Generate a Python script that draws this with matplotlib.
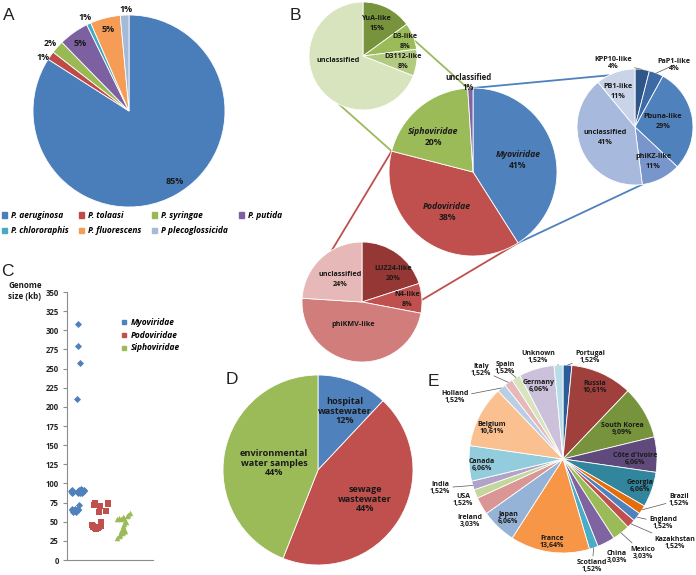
import numpy as np
import matplotlib
matplotlib.use("Agg")
import matplotlib.pyplot as plt
from matplotlib.patches import Patch
from matplotlib.lines import Line2D

plt.rcParams['font.family'] = ['Open Sans', 'DejaVu Sans']

W, H = 696, 575

# ---------------- data ----------------
# A: host species of the phages
a_species = ["P. aeruginosa", "P. tolaasi", "P. syringae", "P. putida",
             "P. chlororaphis", "P. fluorescens", "P plecoglossicida"]
a_counts = [116, 2, 3, 7, 1, 7, 2]
a_labels = ["85%", "1%", "2%", "5%", "1%", "5%", "1%"]

# B: families and sub-groups
b_families = ["Myoviridae", "Podoviridae", "Siphoviridae", "unclassified"]
b_pct = [41, 38, 20, 1]
sipho_groups = ["YuA-like", "D3-like", "D3112-like", "unclassified"]
sipho_pct = [15, 8, 8, 69]
myo_groups = ["KPP10-like", "PaP1-like", "Pbuna-like", "phiKZ-like", "unclassified", "PB1-like"]
myo_pct = [4, 4, 29, 11, 41, 11]
podo_groups = ["LUZ24-like", "N4-like", "phiKMV-like", "unclassified"]
podo_pct = [20, 8, 48, 24]

# C: genome sizes (kb)
myo_x = [0.53, 0.50, 0.60, 0.48, 0.19, 0.23, 0.21, 0.26, 0.49, 0.56, 0.63, 0.70, 0.77,
         0.51, 0.60, 0.70, 0.79, 0.58, 0.65, 0.57, 0.21, 0.28, 0.35, 0.42, 0.49, 0.23, 0.37, 0.51]
myo_kb = [308, 279, 257, 210, 90, 88, 91, 89, 90, 92, 93, 92, 90,
          88, 87, 88, 91, 90, 89.5, 72, 65, 63, 64, 63, 65, 66, 66.5, 66]
podo_x = [1.30, 1.27, 1.53, 1.92, 1.89, 1.81, 1.50, 1.16, 1.19, 1.23, 1.30, 1.37, 1.44,
          1.51, 1.56, 1.58, 1.60, 1.26, 1.40]
podo_kb = [74, 72, 71, 75, 73.5, 64, 63, 46, 44, 42.5, 41.5, 41, 41.5,
           42.5, 44.5, 47, 49.5, 43, 43]
sipho_x = [2.34, 2.42, 2.50, 2.59, 2.65, 2.85, 2.92, 2.78, 2.70, 2.74, 2.65, 2.62, 2.59,
           2.67, 2.50, 2.62, 2.71, 2.54, 2.42, 2.34, 2.47]
sipho_kb = [53, 55, 54, 56, 55, 59, 62, 57, 51, 50, 47, 44, 41,
            40, 38, 37, 38, 35, 31, 29, 32]

# D: isolation source
d_sources = ["hospital\nwastewater", "sewage\nwastewater", "environmental\nwater samples"]
d_pct = [12, 44, 44]

# E: country of isolation
e_countries = ["Portugal", "Russia", "South Korea", "Côte d'Ivoire", "Georgia", "Brazil",
               "England", "Kazakhstan", "Mexico", "China", "Scotland", "France", "Japan",
               "Ireland", "USA", "India", "Canada", "Belgium", "Holland", "Italy", "Spain",
               "Germany", "Unknown"]
e_counts = [1, 7, 6, 4, 4, 1, 1, 1, 2, 2, 1, 9, 4, 2, 1, 1, 4, 7, 1, 1, 1, 4, 1]

# ---------------- styles ----------------
a_colors = ['#4A7EBB', '#BE4B48', '#98B954', '#7D60A0', '#46AAC5', '#F59D56', '#A5B9D9']
b_colors = ['#4F81BD', '#C0504D', '#9BBB59', '#8064A2']
sipho_colors = ['#77933C', '#9BBB59', '#B3CB80', '#D7E4BD']
myo_colors = ['#2F5687', '#3D6AA4', '#4F81BD', '#7896CB', '#A7B9DC', '#C9D4E9']
podo_colors = ['#953735', '#C0504D', '#D07D7B', '#E6B9B8']
d_colors = ['#4F81BD', '#C0504D', '#9BBB59']
e_colors = ['#2C5D9A', '#A0403D', '#77933C', '#5F4A7B', '#31859C', '#E46C0A',
            '#4F81BD', '#C0504D', '#9BBB59', '#8064A2', '#4BACC6', '#F79646',
            '#95B3D7', '#D99694', '#C3D69B', '#B3A2C7', '#93CDDD', '#FAC090',
            '#B9CDE5', '#E6B9B8', '#D7E4BD', '#CCC1DA', '#B7DEE8']

fig = plt.figure(figsize=(W / 100, H / 100), dpi=100)
ax = fig.add_axes([0, 0, 1, 1])


def pie(values, colors, cx, cy, r):
    ax.pie(values, colors=colors, startangle=90, counterclock=False,
           center=(cx, H - cy), radius=r, frame=True,
           wedgeprops=dict(edgecolor='white', linewidth=0.6))
    frac = np.cumsum([0] + list(values)) / np.sum(values)
    return 90 - 360 * frac


def on_circle(cx, cy, r, ang):
    return (cx + r * np.cos(np.radians(ang)), H - cy + r * np.sin(np.radians(ang)))


def lab(x, y, s, size, style='normal', **kw):
    ax.text(x, H - y, s, fontsize=size, fontstyle=style, fontweight='bold',
            ha='center', va='center', linespacing=1.1, color='#1a1a1a', **kw)


def lab2(x, y, name, pct, size, gap, style='normal'):
    lab(x, y - gap / 2, name, size, style)
    lab(x, y + gap / 2, pct, size)


def letter(x, y, s):
    ax.text(x, H - y, s, fontsize=12.5, ha='left', va='center', color='#222222',
            family='Liberation Sans')


# ---------------- A ----------------
pie(a_counts, a_colors, 129, 111, 96)
a_pos = [(175, 182), (43, 57), (50, 43), (80, 43), (85, 17), (108, 29), (126, 9)]
for (x, y), s in zip(a_pos, a_labels):
    lab(x, y, s, 6.5)
order = [0, 4, 1, 5, 2, 6, 3]
handles = [Patch(color=a_colors[i]) for i in order]
fig.legend(handles, [a_species[i] for i in order], ncol=4, loc='upper left',
           bbox_to_anchor=(2 / W, 1 - 211 / H), frameon=False,
           prop=dict(size=6, weight='bold', style='italic'),
           handlelength=0.6, handleheight=0.6, handletextpad=0.5,
           columnspacing=1.25, labelspacing=0.75, borderaxespad=0, borderpad=0)
letter(3, 15, "A")

# ---------------- B ----------------
bc = (473, 172, 84)
b_ang = pie(b_pct, b_colors, *bc)
sc = (363, 56, 54)
pie(sipho_pct, sipho_colors, *sc)
mc = (635, 127, 58)
m_ang = pie(myo_pct, myo_colors, *mc)
pc = (362, 302, 60)
pie(podo_pct, podo_colors, *pc)

# connectors between the family wedges and the zoomed pies
conn = [(sc, 16.5, b_ang[3], '#9BBB59'), (sc, 244, b_ang[2], '#9BBB59'),
        (mc, 117, b_ang[0], '#4F81BD'), (mc, -83, b_ang[1], '#4F81BD'),
        (pc, 120, b_ang[2], '#C0504D'), (pc, 2, b_ang[1], '#C0504D')]
for c, a_sub, a_main, col in conn:
    p1 = on_circle(*c, a_sub)
    p2 = on_circle(*bc, a_main)
    ax.plot([p1[0], p2[0]], [p1[1], p2[1]], color=col, lw=1.3, zorder=0.5)

lab2(518, 160, "Myoviridae", "41%", 6.2, 11, 'italic')
lab2(447, 212, "Podoviridae", "38%", 6.2, 11, 'italic')
lab2(433, 137, "Siphoviridae", "20%", 6.2, 11, 'italic')
lab2(468, 82, "unclassified", "1%", 5.6, 10)

SUB = 5.2
for (x, y), g, p in zip([(377, 24), (405, 42), (403, 62)], sipho_groups, sipho_pct):
    lab2(x, y, g, f"{p}%", SUB, 10)
lab(338, 61, "unclassified", SUB)

for (x, y), g, p in zip([(663, 122), (653, 162), (605, 138), (618, 92)], myo_groups[2:], myo_pct[2:]):
    lab2(x, y, g, f"{p}%", SUB, 10)
for (x, y), g, p, i in zip([(613, 63), (674, 65)], myo_groups[:2], myo_pct[:2], [0, 1]):
    mid = (m_ang[i] + m_ang[i + 1]) / 2
    ax.annotate(f"{g}\n{p}%", xy=on_circle(*mc, mid), xytext=(x, H - y),
                fontsize=SUB, fontweight='bold', ha='center', va='center', linespacing=1.1,
                color='#1a1a1a',
                arrowprops=dict(arrowstyle='-', lw=0.5, color='#555555', shrinkA=0, shrinkB=0))

for (x, y), g, p in zip([(393, 273), (407, 300), (340, 279)],
                        [podo_groups[0], podo_groups[1], podo_groups[3]],
                        [podo_pct[0], podo_pct[1], podo_pct[3]]):
    lab2(x, y, g, f"{p}%", SUB, 10)
lab(353, 325, podo_groups[2], SUB)
letter(290, 15, "B")

# ---------------- D ----------------
pie(d_pct, d_colors, 318, 470, 95)
for (x, y), s, p in zip([(345, 411), (365, 499), (274, 463)], d_sources, d_pct):
    lab(x, y, f"{s}\n{p}%", 6.6)
letter(226, 379, "D")

# ---------------- E ----------------
ec = (563, 459, 94)
e_ang = pie(e_counts, e_colors, *ec)
e_total = sum(e_counts)
e_pos = {"Portugal": (590, 357), "Russia": (595, 387), "South Korea": (622, 429),
         "Côte d'Ivoire": (635, 459), "Georgia": (640, 486), "Brazil": (679, 500),
         "England": (663, 523), "Kazakhstan": (675, 543), "Mexico": (643, 553),
         "China": (617, 557), "Scotland": (592, 566), "France": (552, 542),
         "Japan": (508, 518), "Ireland": (470, 521), "USA": (463, 500),
         "India": (440, 488), "Canada": (482, 465), "Belgium": (492, 428),
         "Holland": (455, 397), "Italy": (481, 370), "Spain": (505, 368),
         "Germany": (539, 386), "Unknown": (538, 357)}
e_leaders = {"Portugal", "Unknown", "Italy", "Spain", "Holland", "India",
             "Brazil", "England", "Kazakhstan", "Mexico", "Scotland"}
ES = 5.0
for i, (c, n) in enumerate(zip(e_countries, e_counts)):
    s = f"{c}\n{100 * n / e_total:.2f}%".replace('.', ',')
    x, y = e_pos[c]
    if c in e_leaders:
        mid = (e_ang[i] + e_ang[i + 1]) / 2
        ax.annotate(s, xy=on_circle(*ec, mid), xytext=(x, H - y),
                    fontsize=ES, fontweight='bold', ha='center', va='center',
                    linespacing=1.1, color='#1a1a1a',
                    arrowprops=dict(arrowstyle='-', lw=0.5, color='#555555',
                                    shrinkA=0, shrinkB=0))
    else:
        lab(x, y, s, ES)
letter(428, 381, "E")

ax.set_xlim(0, W)
ax.set_ylim(0, H)
ax.set_aspect('equal')
ax.axis('off')

# ---------------- C ----------------
axc = fig.add_axes([67 / W, (H - 560) / H, (153 - 67) / W, (560 - 292) / H])
axc.patch.set_alpha(0)
axc.scatter(myo_x, myo_kb, marker='D', s=13, color='#4F81BD', linewidths=0)
axc.scatter(podo_x, podo_kb, marker='s', s=13, color='#C0504D', linewidths=0)
axc.scatter(sipho_x, sipho_kb, marker='^', s=16, color='#9BBB59', linewidths=0)
axc.set_xlim(0, 4)
axc.set_ylim(0, 350)
axc.set_yticks(np.arange(0, 351, 25))
axc.set_xticks([])
for s in ['top', 'right']:
    axc.spines[s].set_visible(False)
for s in ['left', 'bottom']:
    axc.spines[s].set_color('#8c8c8c')
    axc.spines[s].set_linewidth(0.8)
axc.tick_params(axis='y', length=3, width=0.8, color='#8c8c8c', pad=3,
                labelsize=5.6)
for t in axc.get_yticklabels():
    t.set_fontweight('bold')
    t.set_color('#262626')
fig.text(25 / W, 1 - 291 / H, "Genome\nsize (kb)", fontsize=5.8, fontweight='bold',
         ha='center', va='center', linespacing=1.2, color='#1a1a1a')
c_handles = [Line2D([], [], marker='s', ls='none', markersize=3, color=c)
             for c in ['#4F81BD', '#C0504D', '#9BBB59']]
fig.legend(c_handles, b_families[:3], loc='upper left',
           bbox_to_anchor=(121 / W, 1 - 318 / H), frameon=False,
           prop=dict(size=6, weight='bold', style='italic'),
           handlelength=0.8, handletextpad=0.4, labelspacing=0.45,
           borderaxespad=0, borderpad=0)
letter(1, 272, "C")

fig.savefig("out.png", dpi=100)
